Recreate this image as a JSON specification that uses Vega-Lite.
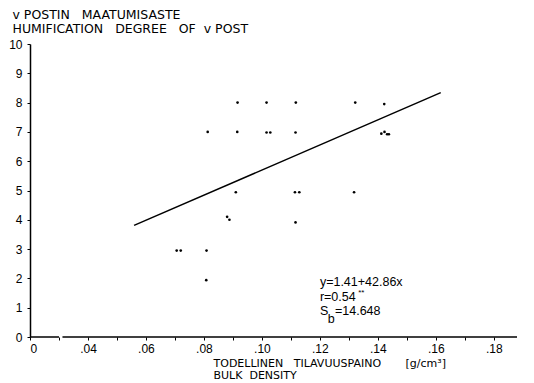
{
  "$schema": "https://vega.github.io/schema/vega-lite/v6.json",
  "width": 487,
  "height": 293,
  "autosize": {"type": "none"},
  "padding": {"left": 30, "top": 44, "right": 17, "bottom": 46},
  "background": "white",
  "config": {
    "view": {"stroke": null},
    "font": "DejaVu Sans",
    "axis": {"grid": false, "labelColor": "black", "titleColor": "black", "tickColor": "black", "domainColor": "black", "titleFontWeight": "normal", "labelOverlap": false}
  },
  "datasets": {
    "pts": [
      {"x": 0.0916, "y": 8}, {"x": 0.1016, "y": 8}, {"x": 0.1117, "y": 8}, {"x": 0.1322, "y": 8}, {"x": 0.1422, "y": 7.95},
      {"x": 0.0813, "y": 7}, {"x": 0.0915, "y": 7}, {"x": 0.1016, "y": 6.98}, {"x": 0.1029, "y": 6.98}, {"x": 0.1116, "y": 6.98},
      {"x": 0.1412, "y": 6.94}, {"x": 0.1423, "y": 7.0}, {"x": 0.1432, "y": 6.92}, {"x": 0.1438, "y": 6.92},
      {"x": 0.0910, "y": 4.94}, {"x": 0.1114, "y": 4.94}, {"x": 0.1129, "y": 4.94}, {"x": 0.1318, "y": 4.94},
      {"x": 0.0880, "y": 4.1}, {"x": 0.0888, "y": 4.0}, {"x": 0.1116, "y": 3.91},
      {"x": 0.0706, "y": 2.95}, {"x": 0.0720, "y": 2.95}, {"x": 0.0809, "y": 2.95},
      {"x": 0.0808, "y": 1.94}
    ],
    "reg": [{"x": 0.0559, "y": 3.81}, {"x": 0.1617, "y": 8.34}],
    "axisSeg": [{"x": 0.02, "x2": 0.0300, "y": 0}, {"x": 0.0312, "x2": 0.188, "y": 0}],
    "notes": [
      {"x": 0.1200, "y": 1.88, "t": "y=1.41+42.86x", "s": 12.5},
      {"x": 0.1200, "y": 1.37, "t": "r=0.54", "s": 12.5},
      {"x": 0.1332, "y": 1.5, "t": "**", "s": 8},
      {"x": 0.1200, "y": 0.89, "t": "S", "s": 12.5},
      {"x": 0.1227, "y": 0.62, "t": "b", "s": 12.5},
      {"x": 0.1252, "y": 0.89, "t": "=14.648", "s": 12.5}
    ]
  },
  "encoding": {
    "x": {"field": "x", "type": "quantitative", "scale": {"domain": [0.02, 0.188], "nice": false, "zero": false},
      "axis": {"domain": false, "values": [0.02, 0.03, 0.04, 0.05, 0.06, 0.07, 0.08, 0.09, 0.1, 0.11, 0.12, 0.13, 0.14, 0.15, 0.16, 0.17, 0.18],
        "labelExpr": "datum.value < 0.025 ? '0' : (round(datum.value*100) % 2 == 0 ? replace(format(datum.value, '.2f'), '0.', '.') : '')",
        "tickSize": 3, "labelFont": "Liberation Sans", "labelFontSize": 12, "labelPadding": 3,
        "title": ["TODELLINEN\u00a0\u00a0\u00a0TILAVUUSPAINO\u00a0\u00a0\u00a0\u00a0\u00a0\u00a0\u00a0[g/cm³]", "BULK\u00a0\u00a0DENSITY"],
        "titleFont": "DejaVu Sans", "titleFontSize": 11, "titleAlign": "left", "titleAnchor": "start", "titleBaseline": "alphabetic", "titleX": 183, "titleY": 29, "titleLineHeight": 12.5}},
    "y": {"field": "y", "type": "quantitative", "scale": {"domain": [0, 10], "nice": false},
      "axis": {"values": [0, 1, 2, 3, 4, 5, 6, 7, 8, 9, 10], "tickSize": 3, "labelFont": "Liberation Sans", "labelFontSize": 12, "labelPadding": 5, "domainWidth": 1.5,
        "title": ["v\u00a0POSTIN\u00a0\u00a0\u00a0MAATUMISASTE", "HUMIFICATION\u00a0\u00a0\u00a0DEGREE\u00a0\u00a0\u00a0OF\u00a0\u00a0v\u00a0POST"],
        "titleFont": "DejaVu Sans", "titleFontSize": 12.5, "titleAngle": 0, "titleAlign": "left", "titleAnchor": "start", "titleBaseline": "alphabetic", "titleX": -18, "titleY": -26, "titleLineHeight": 14.5}}
  },
  "layer": [
    {
      "data": {"name": "axisSeg"},
      "mark": {"type": "rule", "color": "black", "strokeWidth": 1.5},
      "encoding": {"x2": {"field": "x2"}}
    },
    {
      "data": {"name": "reg"},
      "mark": {"type": "line", "color": "black", "strokeWidth": 1.5},
      "encoding": {}
    },
    {
      "data": {"name": "pts"},
      "mark": {"type": "circle", "color": "black", "size": 7, "opacity": 1},
      "encoding": {}
    },
    {
      "data": {"name": "notes"},
      "mark": {"type": "text", "align": "left", "baseline": "middle", "color": "black", "font": "Liberation Sans"},
      "encoding": {
        "text": {"field": "t"},
        "size": {"field": "s", "type": "quantitative", "scale": null}
      }
    }
  ]
}
